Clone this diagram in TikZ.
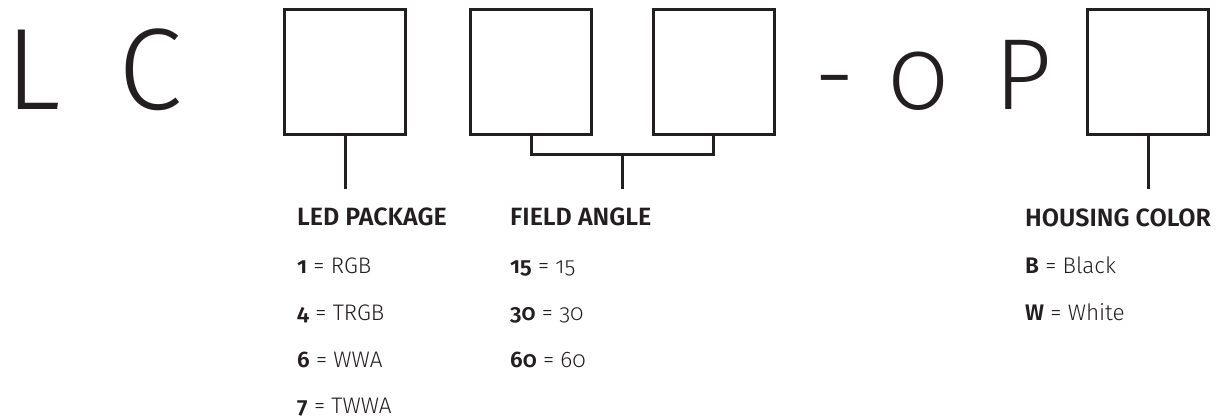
\documentclass[tikz,border=0pt]{standalone}
\usepackage{fontspec}
\setmainfont{Fira Sans Light}[BoldFont=Fira Sans SemiBold, Numbers=OldStyle]
\definecolor{ink}{HTML}{231F20}
\tikzset{
  slot/.style={draw=ink, line width=3pt, inner sep=0pt, minimum width=121pt, minimum height=125pt},
  stem/.style={draw=ink, line width=3pt},
  bigch/.style={text=ink, inner sep=0pt, anchor=base, font=\fontsize{116}{116}\selectfont},
  midch/.style={text=ink, inner sep=0pt, anchor=base, font=\fontsize{101}{101}\selectfont},
  head/.style={text=ink, inner sep=0pt, anchor=base west, font=\fontsize{25}{25}\selectfont\bfseries},
  entry/.style={text=ink, inner sep=0pt, anchor=base west, font=\fontsize{22.5}{22.5}\selectfont}
}
\begin{document}
\begin{tikzpicture}[x=1pt,y=-1pt]
            \useasboundingbox (0,0) rectangle (1217,417);
            \node[bigch] (chL) at (33,110) {L};
            \node[bigch] (chC) at (150,110) {C};
            \node[slot] (led) at (345,72) {};
            \node[slot] (fa1) at (531,72) {};
            \node[slot] (fa2) at (713.5,72) {};
            \node[midch] (dash) at (834.5,110) {-};
            \node[midch] (zero) at (918.5,110) {0};
            \node[midch] (chP) at (1023.5,110) {P};
            \node[slot] (col) at (1148,72) {};
            \coordinate (ledend) at (345,189);
            \coordinate (fajoin) at (622,154);
            \coordinate (faend) at (622,189);
            \coordinate (colend) at (1148,189);
            \draw[stem] (led.south) -- (ledend);
            \draw[stem] (fa1.south) |- (fajoin) -| (fa2.south);
            \draw[stem] (fajoin) -- (faend);
            \draw[stem] (col.south) -- (colend);
            \node[head] (ledhead) at (297,225) {LED PACKAGE};
            \node[entry] (led1) at (297,273) {\textbf{1} = RGB};
            \node[entry] (led4) at (297,320) {\textbf{4} = TRGB};
            \node[entry] (led6) at (297,367) {\textbf{6} = WWA};
            \node[entry] (led7) at (297,413) {\textbf{7} = TWWA};
            \node[head] (fahead) at (510,225) {FIELD ANGLE};
            \node[entry] (fa15) at (510,273) {\textbf{15} = 15};
            \node[entry] (fa30) at (510,320) {\textbf{30} = 30};
            \node[entry] (fa60) at (510,367) {\textbf{60} = 60};
            \node[head] (colhead) at (1025,226) {HOUSING COLOR};
            \node[entry] (colB) at (1025,273) {\textbf{B} = Black};
            \node[entry] (colW) at (1025,320) {\textbf{W} = White};
\end{tikzpicture}
\end{document}
